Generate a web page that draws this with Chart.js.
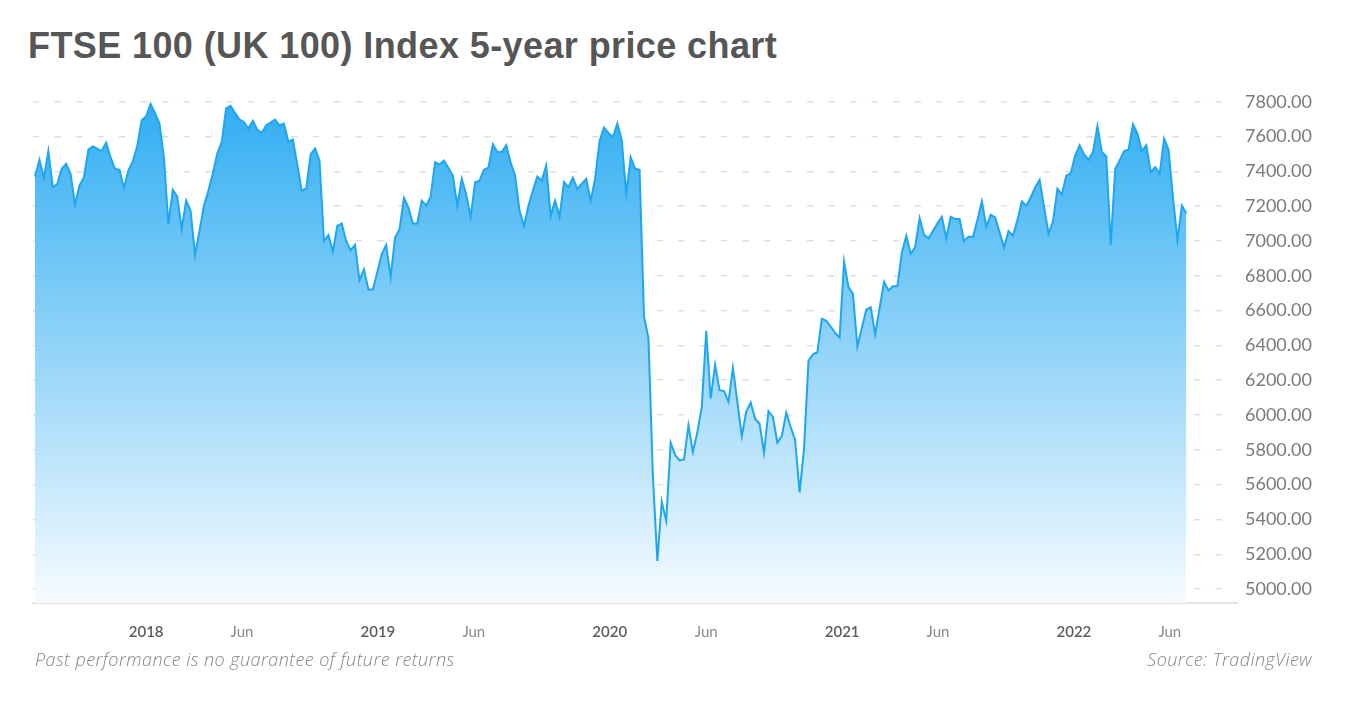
<!DOCTYPE html>
<html>
<head>
<meta charset="utf-8">
<script src="https://cdn.jsdelivr.net/npm/chart.js@4.4.1/dist/chart.umd.min.js"></script>
<style>
  body { margin: 0; background: #fff; }
  #wrap { position: relative; width: 1350px; height: 705px; overflow: hidden; }
  h1 { position: absolute; left: 28px; top: 25px; margin: 0; font: bold 36px "Liberation Sans", Arial, sans-serif; letter-spacing: 0.4px; color: #565656; white-space: nowrap; }
  canvas { position: absolute; left: 0; top: 0; }
  .note { position: absolute; top: 647px; font: italic 300 18px "Open Sans", sans-serif; letter-spacing: 0.45px; color: #858585; white-space: nowrap; }
</style>
</head>
<body>
<div id="wrap">
  <h1>FTSE 100 (UK 100) Index 5-year price chart</h1>
  <canvas id="chart_elem" width="1350" height="705"></canvas>
  <div class="note" style="left:35px">Past performance is no guarantee of future returns</div>
  <div class="note" style="right:38px">Source: TradingView</div>
</div>
<script>
// weekly closes, first week starting on startDate
const startDate = '2017-07-10';

const closes = [
  7371, 7467, 7363, 7517, 7309, 7328, 7415, 7444, 7386, 7209,
  7319, 7367, 7525, 7544, 7531, 7517, 7565, 7480, 7415, 7409,
  7305, 7405, 7459, 7545, 7694, 7717, 7787, 7736, 7675, 7482,
  7097, 7294, 7255, 7068, 7232, 7174, 6920, 7058, 7203, 7290,
  7386, 7502, 7569, 7762, 7777, 7736, 7698, 7684, 7646, 7690,
  7640, 7621, 7665, 7680, 7698, 7665, 7675, 7569, 7583, 7440,
  7290, 7300, 7498, 7531, 7463, 7000, 7035, 6939, 7087, 7101,
  7000, 6947, 6978, 6774, 6837, 6721, 6721, 6820, 6924, 6978,
  6793, 7020, 7068, 7247, 7193, 7101, 7101, 7232, 7203, 7255,
  7453, 7440, 7463, 7420, 7376, 7203, 7357, 7267, 7139, 7338,
  7347, 7409, 7421, 7555, 7511, 7511, 7550, 7450, 7376, 7174,
  7087, 7203, 7290, 7371, 7347, 7434, 7145, 7232, 7139, 7338,
  7309, 7363, 7300, 7330, 7357, 7232, 7357, 7575, 7652, 7620,
  7598, 7675, 7579, 7270, 7482, 7415, 7409, 6567, 6442, 5652,
  5161, 5502, 5392, 5841, 5771, 5739, 5745, 5941, 5787, 5902,
  6047, 6484, 6095, 6288, 6143, 6138, 6076, 6272, 6076, 5879,
  6018, 6072, 5979, 5950, 5783, 6022, 5989, 5841, 5879, 6014,
  5931, 5855, 5556, 5806, 6311, 6349, 6361, 6554, 6542, 6509,
  6471, 6446, 6881, 6735, 6696, 6394, 6500, 6606, 6619, 6465,
  6615, 6765, 6716, 6740, 6740, 6933, 7030, 6927, 6966, 7132,
  7035, 7016, 7058, 7100, 7139, 7016, 7139, 7126, 7126, 7000,
  7024, 7024, 7120, 7228, 7082, 7151, 7135, 7049, 6962, 7058,
  7030, 7120, 7228, 7203, 7251, 7309, 7351, 7193, 7043, 7112,
  7300, 7267, 7376, 7390, 7492, 7550, 7498, 7467, 7511, 7660,
  7511, 7486, 6978, 7415, 7463, 7517, 7525, 7671, 7617, 7517,
  7550, 7395, 7424, 7386, 7588, 7525, 7250, 7005, 7203, 7158
];

const xTickDates = ['2018-01-01', '2018-06-01', '2019-01-01', '2019-06-01', '2020-01-01',
  '2020-06-01', '2021-01-01', '2021-06-01', '2022-01-01', '2022-06-01'];
const xTickLabels = ['2018', 'Jun', '2019', 'Jun', '2020', 'Jun', '2021', 'Jun', '2022', 'Jun'];

const yTicks = [5000, 5200, 5400, 5600, 5800, 6000, 6200, 6400, 6600, 6800, 7000, 7200, 7400, 7600, 7800];

const weekOf = (d) => (Date.parse(d) - Date.parse(startDate)) / (7 * 24 * 3600 * 1000);

const canvas = document.getElementById('chart_elem');
const ctx = canvas.getContext('2d');

const fillGradient = (context) => {
  const area = context.chart.chartArea;
  if (!area) return 'rgba(45,172,242,0.5)';
  const g = context.chart.ctx.createLinearGradient(0, area.top, 0, area.bottom);
  g.addColorStop(0, '#2dacf2');
  g.addColorStop(1, '#f6fbff');
  return g;
};

const isMonth = (i) => xTickLabels[i] === 'Jun';

const config = {
  type: 'line',
  data: {
    datasets: [{
      label: 'FTSE 100',
      data: closes.map((v, i) => ({ x: i, y: v })),
      borderColor: '#1ea6f0',
      borderWidth: 2,
      backgroundColor: fillGradient,
      fill: 'start',
      pointRadius: 0,
      tension: 0
    }]
  },
  options: {
    responsive: false,
    animation: false,
    devicePixelRatio: 1,
    layout: { padding: { left: 33, top: 91, right: 0, bottom: 62 } },
    plugins: { legend: { display: false }, tooltip: { enabled: false } },
    scales: {
      x: {
        type: 'linear',
        min: -0.45,
        max: 270.4,
        afterBuildTicks: (axis) => { axis.ticks = xTickDates.map(d => ({ value: weekOf(d) })); },
        afterFit: (axis) => { axis.height = 40; },
        grid: { display: false },
        border: { display: true, color: '#e2e2e2', width: 2 },
        ticks: {
          autoSkip: false,
          maxRotation: 0,
          padding: 12,
          callback: (value, index) => xTickLabels[index],
          color: (c) => isMonth(c.index) ? '#8a8a8a' : '#5c5c5c',
          font: (c) => ({ family: 'Lato', size: 15, weight: isMonth(c.index) ? 'normal' : '600' })
        }
      },
      y: {
        position: 'right',
        min: 4920,
        max: 7862,
        z: 1,
        afterBuildTicks: (axis) => { axis.ticks = yTicks.map(v => ({ value: v })); },
        afterFit: (axis) => { axis.width = 113; },
        grid: { color: '#dfdfdf', lineWidth: 1.5, drawTicks: false },
        border: { display: false, dash: [6.5, 15] },
        ticks: {
          padding: 8,
          color: '#7a7a7a',
          font: { family: 'Lato', size: 18 },
          callback: (v) => v.toFixed(2)
        }
      }
    }
  }
};

const chart = new Chart(ctx, config);
</script>
</body>
</html>
